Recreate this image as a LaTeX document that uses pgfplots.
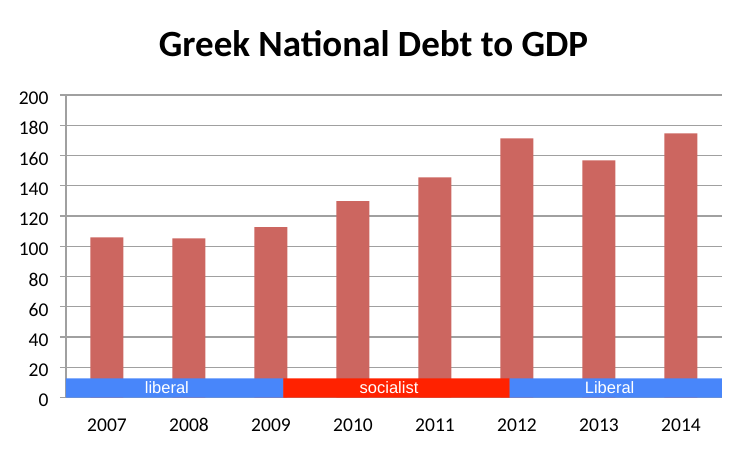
\documentclass[border=0pt]{standalone}
\usepackage{fontspec}
\setmainfont{Carlito}
\newfontfamily\arial{Liberation Sans}
\usepackage{pgfplots}
\pgfplotsset{compat=1.18}
\definecolor{barred}{RGB}{204,102,96}
\definecolor{bandblue}{RGB}{72,134,250}
\definecolor{bandred}{RGB}{255,34,0}
\definecolor{gridgray}{RGB}{160,160,160}
\begin{document}
\begin{tikzpicture}[x=1pt,y=1pt]
\useasboundingbox (0,0) rectangle (750,451);
\node[anchor=base,font=\fontsize{37}{40}\selectfont\bfseries] at (373.5,395) {Greek National Debt to GDP};
\begin{axis}[
  at={(66pt,53.5pt)}, anchor=south west,
  scale only axis, width=656pt, height=302.5pt,
  xmin=-0.5, xmax=7.5, ymin=0, ymax=200,
  ytick={0,20,...,200},
  xtick={0,1,...,7},
  xticklabels={2007,2008,2009,2010,2011,2012,2013,2014},
  xtick style={draw=none},
  extra x ticks={-0.5,0.5,...,7.5},
  extra x tick labels={},
  extra x tick style={grid=none, tick style={gridgray, line width=1.2pt}},
  ymajorgrids, grid style={gridgray, line width=1.2pt},
  axis x line*=bottom, axis y line*=left,
  axis line style={gridgray, line width=1.2pt},
  ytick style={gridgray, line width=1.2pt},
  major tick length=6pt,
  tick align=outside,
  x axis line style={-}, y axis line style={-},
  tick label style={font=\fontsize{19.5}{20}\selectfont},
  /pgf/number format/assume math mode=true,
  yticklabel style={xshift=-8pt, yshift=-3pt},
  xticklabel style={anchor=center, text height=13pt, text depth=0pt, yshift=-21pt},
  ybar, bar width=33pt,
  clip=false,
]
\addplot[fill=barred, draw=none] coordinates {
  (0,105.9) (1,105.2) (2,112.7) (3,129.9) (4,145.6) (5,171.4) (6,156.8) (7,174.7)};
\addplot[fill=bandblue, draw=none, sharp plot] coordinates {(-0.5,0)(2.15,0)(2.15,12.7)(-0.5,12.7)} \closedcycle;
\addplot[fill=bandred, draw=none, sharp plot] coordinates {(2.15,0)(4.91,0)(4.91,12.7)(2.15,12.7)} \closedcycle;
\addplot[fill=bandblue, draw=none, sharp plot] coordinates {(4.91,0)(7.5,0)(7.5,12.7)(4.91,12.7)} \closedcycle;
\node[font=\arial\fontsize{16.5}{18}\selectfont, text=white] at (axis cs:0.73,6.3) {liberal};
\node[font=\arial\fontsize{16.5}{18}\selectfont, text=white] at (axis cs:3.44,6.3) {socialist};
\node[font=\arial\fontsize{16.5}{18}\selectfont, text=white] at (axis cs:6.13,6.3) {Liberal};
\end{axis}
\end{tikzpicture}
\end{document}
